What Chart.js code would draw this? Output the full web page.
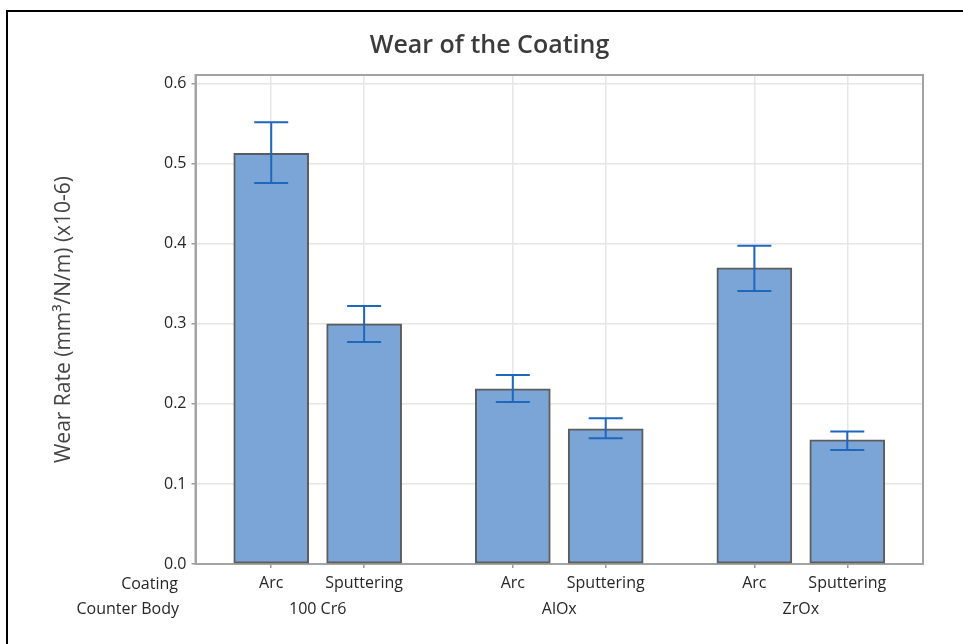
<!DOCTYPE html>
<html>
<head>
<meta charset="utf-8">
<title>Wear of the Coating</title>
<script src="https://cdn.jsdelivr.net/npm/chart.js@4.4.1/dist/chart.umd.min.js"></script>
<style>
    html, body { margin: 0; padding: 0; background: #fff; }
    #wrap { position: relative; width: 963px; height: 644px; }
    #frame {
        position: absolute; left: 6px; top: 10px; width: 1000px; height: 700px;
        border-left: 2px solid #000; border-top: 2px solid #000; pointer-events: none;
    }
</style>
</head>
<body>
<div id="wrap">
    <canvas id="wearChart"></canvas>
    <div id="frame"></div>
</div>
<script>
// Data
const counterBodies = ["100 Cr6", "AlOx", "ZrOx"];
const coatings = ["Arc", "Sputtering"];
const wearRate = [0.513, 0.300, 0.219, 0.169, 0.370, 0.155];
const ciLow = [0.476, 0.2775, 0.2025, 0.157, 0.341, 0.1425];
const ciHigh = [0.552, 0.3225, 0.236, 0.182, 0.3975, 0.1655];
const yTicks = [0, 0.1, 0.2, 0.3, 0.4, 0.5, 0.6];

// extra space between counter body groups (in bar slots)
const groupGap = 0.6;

const FONT = "'Open Sans', 'Noto Sans', sans-serif";

// x slot for every bar: group index * (bars per group + gap) + coating index
const slots = [];
const coatingLabels = [];
counterBodies.forEach((cb, g) => {
    coatings.forEach((c, i) => {
        slots.push(g * (coatings.length + groupGap) + i);
        coatingLabels.push(c);
    });
});

// Frame, title, error bars and the second label row
const extrasPlugin = {
    id: "extras",
    beforeDatasetsDraw(chart) {
        const { ctx, chartArea: a } = chart;
        ctx.save();
        ctx.strokeStyle = "#a3a3a3";
        ctx.lineWidth = 2;
        ctx.strokeRect(a.left, a.top, a.right - a.left, a.bottom - a.top);
        ctx.restore();
    },
    afterDatasetsDraw(chart) {
        const { ctx } = chart;
        const y = chart.scales.y;
        const x = chart.scales.x;
        const meta = chart.getDatasetMeta(0);

        // confidence interval bars
        ctx.save();
        ctx.strokeStyle = "#1f66bd";
        ctx.lineWidth = 2;
        meta.data.forEach((bar, i) => {
            const px = bar.x;
            const top = y.getPixelForValue(ciHigh[i]);
            const bot = y.getPixelForValue(ciLow[i]);
            ctx.beginPath();
            ctx.moveTo(px, top); ctx.lineTo(px, bot);
            ctx.moveTo(px - 17, top); ctx.lineTo(px + 17, top);
            ctx.moveTo(px - 17, bot); ctx.lineTo(px + 17, bot);
            ctx.stroke();
        });
        ctx.restore();

        // title
        ctx.save();
        ctx.fillStyle = "#3b3b3b";
        ctx.font = "600 25px " + FONT;
        ctx.textAlign = "center";
        ctx.textBaseline = "middle";
        ctx.fillText("Wear of the Coating", 489.5, 46);

        // row headers and counter body labels
        ctx.fillStyle = "#262626";
        ctx.font = "16px " + FONT;
        ctx.textAlign = "right";
        ctx.fillText("Coating", 178, 584);
        ctx.fillText("Counter Body", 179, 609);
        ctx.textAlign = "center";
        counterBodies.forEach((cb, g) => {
            const first = slots[g * coatings.length];
            const last = slots[g * coatings.length + coatings.length - 1];
            ctx.fillText(cb, x.getPixelForValue((first + last) / 2), 609);
        });
        ctx.restore();
    }
};

const ctx = document.getElementById("wearChart").getContext("2d");
const wearChart = new Chart(ctx, {
    type: "bar",
    data: {
        datasets: [{
            label: "Wear Rate",
            data: slots.map((s, i) => ({ x: s, y: wearRate[i] })),
            backgroundColor: "#7ca5d7",
            borderColor: "#5c5c5c",
            borderWidth: 2,
            borderSkipped: false,
            barThickness: 75
        }]
    },
    options: {
        responsive: true,
        maintainAspectRatio: false,
        animation: false,
        layout: { padding: { left: 49, top: 75, right: 40, bottom: 0 } },
        plugins: {
            legend: { display: false },
            title: { display: false },
            tooltip: { enabled: false }
        },
        scales: {
            x: {
                type: "linear",
                offset: false,
                min: -0.815,
                max: 7.015,
                afterBuildTicks: scale => {
                    scale.ticks = slots.map(v => ({ value: v }));
                },
                afterFit: scale => { scale.height = 80; },
                ticks: {
                    autoSkip: false,
                    maxRotation: 0,
                    padding: 6,
                    color: "#262626",
                    font: { family: FONT, size: 16 },
                    callback: (v, i) => coatingLabels[i]
                },
                grid: { offset: false, color: "#e6e6e6", lineWidth: 1.5, tickColor: "#9a9a9a", tickLength: 4, tickWidth: 1.5 },
                border: { color: "#a3a3a3", width: 2 }
            },
            y: {
                min: 0,
                max: 0.611,
                afterBuildTicks: scale => {
                    scale.ticks = yTicks.map(v => ({ value: v }));
                },
                afterFit: scale => { scale.width = 146.5; },
                ticks: {
                    padding: 5,
                    color: "#262626",
                    font: { family: FONT, size: 16 },
                    callback: v => v.toFixed(1)
                },
                grid: { color: "#e6e6e6", lineWidth: 1.5, tickColor: "#9a9a9a", tickLength: 4, tickWidth: 1.5 },
                border: { color: "#a3a3a3", width: 2 },
                title: {
                    display: true,
                    text: "Wear Rate (mm³/N/m) (x10-6)",
                    color: "#444",
                    font: { family: FONT, size: 21 },
                    padding: { top: 2, bottom: 2 }
                }
            }
        }
    },
    plugins: [extrasPlugin]
});
</script>
</body>
</html>
